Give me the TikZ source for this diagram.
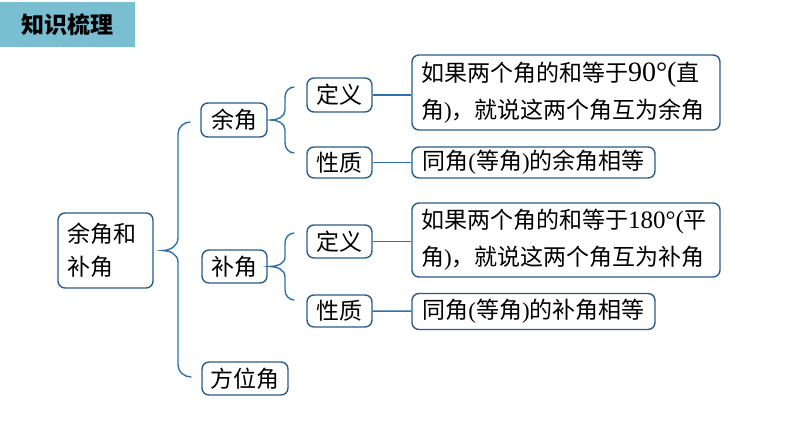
\documentclass[tikz,border=0pt]{standalone}
\usepackage{fontspec}
\setmainfont{Noto Sans CJK SC}
\newfontfamily\ser{Liberation Serif}
\usetikzlibrary{calc}
\definecolor{bordc}{RGB}{40,92,138}
\definecolor{linec}{RGB}{46,112,172}
\definecolor{bannerc}{RGB}{122,190,209}
\begin{document}
\begin{tikzpicture}[x=1pt,y=-1pt,
  box/.style={draw=bordc, line width=1.4pt, rounded corners=7pt, fill=white, inner sep=0pt, font=\fontsize{23}{28}\selectfont},
  defbox/.style={box, minimum width=308pt, text width=290pt, align=left, font=\fontsize{23}{37}\selectfont},
  propbox/.style={box, minimum width=243pt},
  conn/.style={draw=linec, line width=1.4pt}]
\useasboundingbox (0,0) rectangle (794,447);
\node[fill=bannerc, minimum width=135pt, minimum height=45pt, inner sep=0pt, font=\fontsize{23}{28}\selectfont\bfseries] (title) at (67.5,24.5) {知识梳理};

\node[box, minimum width=95pt, minimum height=75pt, text width=77pt, align=left, font=\fontsize{23}{33}\selectfont] (root) at (105.5,250.5) {余角和\\补角};
\node[box, minimum width=66pt, minimum height=34pt] (yu) at (234,120) {余角};
\node[box, minimum width=65pt, minimum height=33pt] (bu) at (234.5,266.5) {补角};
\node[box, minimum width=86pt, minimum height=33pt] (fw) at (245,378.5) {方位角};

\node[box, minimum width=65pt, minimum height=34pt] (d1) at (339.5,95) {定义};
\node[box, minimum width=65pt, minimum height=31pt] (p1) at (339.5,162.5) {性质};
\node[box, minimum width=65pt, minimum height=33pt] (d2) at (339.5,241.5) {定义};
\node[box, minimum width=65pt, minimum height=32pt] (p2) at (339.5,311) {性质};

\node[defbox, minimum height=75pt] (e1) at (566,92.5) {如果两个角的和等于{\ser\fontsize{28}{37}\selectfont 90°(}直\\角{\ser )}，就说这两个角互为余角};
\node[propbox, minimum height=31pt] (f1) at (533.5,162.5) {同角{\ser (}等角{\ser )}的余角相等};
\node[defbox, minimum height=74pt] (e2) at (566,240) {如果两个角的和等于{\ser\fontsize{25}{37}\selectfont 180°(}平\\角{\ser )}，就说这两个角互为补角};
\node[propbox, minimum height=36pt] (f2) at (533.5,311.5) {同角{\ser (}等角{\ser )}的补角相等};

\draw[conn] (d1.east) -- (d1.east -| e1.west);
\draw[conn] (p1) -- (f1);
\draw[conn] (d2.east) -- (d2.east -| e2.west);
\draw[conn] (p2) -- (f2);

% big brace
\coordinate (bC) at ($(root.east)+(9,0)$);
\coordinate (bT) at ($(yu.west)+(-10,2)$);
\coordinate (bB) at ($(fw.west)+(-10,-1.5)$);
\draw[conn] (bT) to[out=180,in=90] (178,134) -- (178,238) to[out=270,in=0] (bC)
  to[out=0,in=90] (178,262) -- (178,365) to[out=270,in=180] (bB);

% brace for yu
\coordinate (yC) at ($(yu.east)+(3,0)$);
\coordinate (yT) at ($(d1.west)+(-12,-8)$);
\coordinate (yB) at ($(p1.west)+(-12,-9.5)$);
\draw[conn] (yT) to[out=180,in=90] (285,97) -- (285,110) to[out=270,in=0] (yC)
  to[out=0,in=90] (285,130) -- (285,143) to[out=270,in=180] (yB);

% brace for bu
\coordinate (uC) at ($(bu.east)+(2,0)$);
\coordinate (uT) at ($(d2.west)+(-12,-8.5)$);
\coordinate (uB) at ($(p2.west)+(-12,-11)$);
\draw[conn] (uT) to[out=180,in=90] (285,243) -- (285,257) to[out=270,in=0] (uC)
  to[out=0,in=90] (285,277) -- (285,290) to[out=270,in=180] (uB);
\end{tikzpicture}
\end{document}
